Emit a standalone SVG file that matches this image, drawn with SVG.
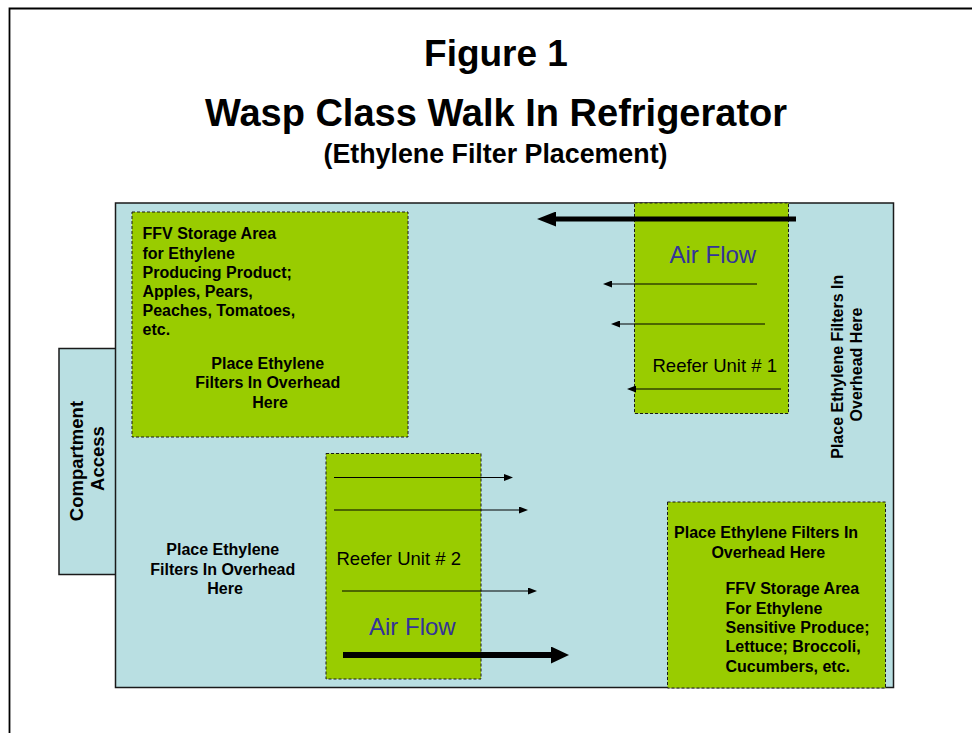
<svg xmlns="http://www.w3.org/2000/svg" width="972" height="733" viewBox="0 0 972 733">
  <style>
    .t { font-family: "Liberation Sans", Arial, sans-serif; fill: #000; }
    .b { font-weight: bold; }
    .body { font-size: 16px; font-weight: bold; }
    .reefer { font-size: 18.5px; }
    .air { font-size: 24px; fill: #333399; }
    .room { fill: #b9dfe2; stroke: #1a1a1a; stroke-width: 1.5; }
    .zone { fill: #99cc00; stroke: #1a1a1a; stroke-width: 1; stroke-dasharray: 3 2; }
    .thin { stroke: #000; stroke-width: 1.2; fill: none; }
  </style>
  <defs>
    <marker id="ah" markerUnits="userSpaceOnUse" markerWidth="9" markerHeight="7" viewBox="0 0 9 7" refX="0" refY="3.5" orient="auto">
      <path d="M0,0 L9,3.5 L0,7 Z" fill="#000"/>
    </marker>
    <marker id="ahTop" markerUnits="userSpaceOnUse" markerWidth="19" markerHeight="15" viewBox="0 0 19 15" refX="0" refY="7.5" orient="auto">
      <path d="M0,0 L19,7.5 L0,15 Z" fill="#000"/>
    </marker>
    <marker id="ahBot" markerUnits="userSpaceOnUse" markerWidth="18" markerHeight="17" viewBox="0 0 18 17" refX="0" refY="8.5" orient="auto">
      <path d="M0,0 L18,8.5 L0,17 Z" fill="#000"/>
    </marker>
  </defs>

  <rect width="972" height="733" fill="#fff"/>
  <path d="M9.5,733 L9.5,8.5 L972,8.5" fill="none" stroke="#000" stroke-width="1.8"/>

  <g id="titles">
    <text class="t b" x="496" y="66" font-size="37" text-anchor="middle">Figure 1</text>
    <text class="t b" x="496" y="126" font-size="38" text-anchor="middle">Wasp Class Walk In Refrigerator</text>
    <text class="t b" x="495.5" y="163" font-size="26.8" text-anchor="middle">(Ethylene Filter Placement)</text>
  </g>

  <g id="compartment-access">
    <rect class="room" x="59" y="348.5" width="57" height="226"/>
    <text class="t b" font-size="18.5" text-anchor="middle" transform="translate(82.5,458.5) rotate(-90)">
      <tspan x="0" y="0">Compartment</tspan>
      <tspan x="0" y="21">Access</tspan>
    </text>
  </g>

  <g id="refrigerator">
    <rect class="room" x="115.5" y="203" width="778" height="484.5"/>
  </g>

  <g id="ffv-producing">
    <rect class="zone" x="132" y="212" width="276" height="225"/>
    <text class="t body">
      <tspan x="142.5" y="239.3">FFV Storage Area</tspan>
      <tspan x="142.5" y="258.5">for Ethylene</tspan>
      <tspan x="142.5" y="277.7">Producing Product;</tspan>
      <tspan x="142.5" y="296.9">Apples, Pears,</tspan>
      <tspan x="142.5" y="316.1">Peaches, Tomatoes,</tspan>
      <tspan x="142.5" y="335.3">etc.</tspan>
    </text>
    <text class="t body" text-anchor="middle">
      <tspan x="270" y="369">Place Ethylene</tspan>
      <tspan x="270" y="388.3">Filters In Overhead</tspan>
      <tspan x="270" y="407.6">Here</tspan>
    </text>
  </g>

  <g id="reefer-unit-1">
    <rect class="zone" x="634.5" y="203" width="154" height="210.5"/>
    <text class="t air" x="669.5" y="263.3">Air Flow</text>
    <text class="t reefer" x="652.5" y="372">Reefer Unit # 1</text>
  </g>

  <g id="right-filters">
    <text class="t body" text-anchor="middle" transform="translate(842.5,364.5) rotate(-90)">
      <tspan x="0" y="0">Place Ethylene Filters In</tspan>
      <tspan x="0" y="19.4">Overhead Here</tspan>
    </text>
  </g>

  <g id="left-filters">
    <text class="t body" text-anchor="middle">
      <tspan x="225" y="555">Place Ethylene</tspan>
      <tspan x="225" y="574.5">Filters In Overhead</tspan>
      <tspan x="225" y="594">Here</tspan>
    </text>
  </g>

  <g id="reefer-unit-2">
    <rect class="zone" x="326" y="453.5" width="155" height="225.5"/>
    <text class="t reefer" x="336.5" y="565">Reefer Unit # 2</text>
    <text class="t air" x="369" y="635">Air Flow</text>
  </g>

  <g id="ffv-sensitive">
    <rect class="zone" x="667.5" y="502" width="218" height="186"/>
    <text class="t body" text-anchor="middle">
      <tspan x="768.3" y="537.7">Place Ethylene Filters In</tspan>
      <tspan x="768.3" y="557.5">Overhead Here</tspan>
    </text>
    <text class="t body">
      <tspan x="725.5" y="594.3">FFV Storage Area</tspan>
      <tspan x="725.5" y="613.6">For Ethylene</tspan>
      <tspan x="725.5" y="632.9">Sensitive Produce;</tspan>
      <tspan x="725.5" y="652.2">Lettuce; Broccoli,</tspan>
      <tspan x="725.5" y="671.5">Cucumbers, etc.</tspan>
    </text>
  </g>

  <g id="connectors">
    <line x1="796" y1="219" x2="556" y2="219" stroke="#000" stroke-width="5" marker-end="url(#ahTop)"/>
    <line class="thin" x1="757" y1="284" x2="612" y2="284" marker-end="url(#ah)"/>
    <line class="thin" x1="765" y1="324" x2="620" y2="324" marker-end="url(#ah)"/>
    <line class="thin" x1="781" y1="389" x2="636" y2="389" marker-end="url(#ah)"/>
    <line class="thin" x1="334" y1="477.5" x2="504" y2="477.5" marker-end="url(#ah)"/>
    <line class="thin" x1="334" y1="510" x2="519" y2="510" marker-end="url(#ah)"/>
    <line class="thin" x1="342" y1="591" x2="528" y2="591" marker-end="url(#ah)"/>
    <line x1="343" y1="655" x2="551" y2="655" stroke="#000" stroke-width="6" marker-end="url(#ahBot)"/>
  </g>
</svg>
